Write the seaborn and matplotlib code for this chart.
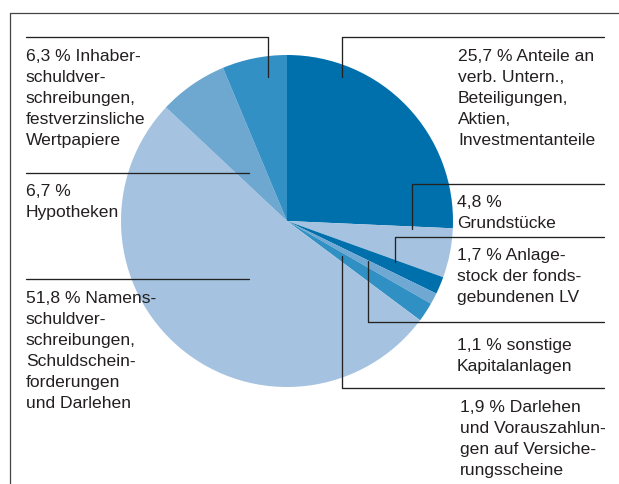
import matplotlib
matplotlib.use("Agg")
import matplotlib.pyplot as plt
import seaborn as sns

# Kapitalanlagen in %, im Uhrzeigersinn ab 12 Uhr
anteile = [25.7, 4.8, 1.7, 1.1, 1.9, 51.8, 6.7, 6.3]
beschriftungen = [
    ["25,7 % Anteile an", "verb. Untern.,", "Beteiligungen,", "Aktien,", "Investmentanteile"],
    ["4,8 %", "Grundstücke"],
    ["1,7 % Anlage-", "stock der fonds-", "gebundenen LV"],
    ["1,1 % sonstige", "Kapitalanlagen"],
    ["1,9 % Darlehen", "und Vorauszahlun-", "gen auf Versiche-", "rungsscheine"],
    ["51,8 % Namens-", "schuldver-", "schreibungen,", "Schuldschein-", "forderungen", "und Darlehen"],
    ["6,7 %", "Hypotheken"],
    ["6,3 % Inhaber-", "schuldver-", "schreibungen,", "festverzinsliche", "Wertpapiere"],
]
farben = ["#0070ac", "#a5c3e0", "#0070ac", "#6fa8d2", "#3090c4", "#a5c3e0", "#6ea7d0", "#3390c5"]

# Layout in Pixeln (Ursprung oben links)
W, H = 619, 484
MITTE = (287, 221)
RADIUS = 166
ZEILE = 21
text_pos = [(458, 61), (457, 207), (457, 260), (457, 350), (460, 412),
            (26, 303), (26, 196), (26, 61)]
linien = [
    [(342, 77), (342, 37), (604, 37)],
    [(412, 229), (412, 184), (604, 184)],
    [(395, 262), (395, 237), (604, 237)],
    [(368, 261), (368, 322), (604, 322)],
    [(342, 256), (342, 388), (604, 388)],
    [(26, 279), (249, 279)],
    [(26, 173), (249, 173)],
    [(26, 37), (268, 37), (268, 77)],
]

sns.set_theme(style="white")
plt.rcParams['font.family'] = ['Liberation Sans', 'DejaVu Sans']

fig = plt.figure(figsize=(W / 100, H / 100), dpi=100)
ax = fig.add_axes([0, 0, 1, 1])

# y-Achse ist invertiert: startangle=-90 ist oben, counterclock=True läuft im Uhrzeigersinn
ax.pie(anteile, colors=sns.color_palette(farben), startangle=-90, counterclock=True,
       center=MITTE, radius=RADIUS, wedgeprops=dict(linewidth=0))

ax.set_xlim(0, W)
ax.set_ylim(H, 0)
ax.axis('off')

# Rahmen oben und links
ax.plot([10, 10, W], [H, 13, 13], color='#444444', lw=0.9, solid_capstyle='butt')

for pts in linien:
    xs, ys = zip(*pts)
    ax.plot(xs, ys, color='#222222', lw=0.95)

for (x, y), zeilen in zip(text_pos, beschriftungen):
    for i, z in enumerate(zeilen):
        ax.text(x, y + i * ZEILE, z, fontsize=12.6, color='#231f20', va='baseline', ha='left')

fig.savefig('out.png', dpi=100)
